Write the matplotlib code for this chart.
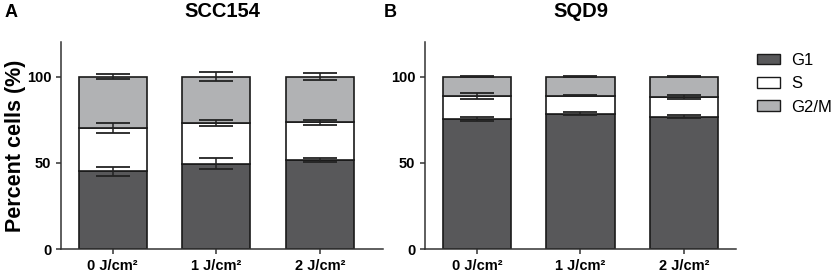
import matplotlib.pyplot as plt
from matplotlib.patches import Patch
import numpy as np

plt.rcParams['font.family'] = ['Liberation Sans', 'DejaVu Sans']

doses = ["0 J/cm²", "1 J/cm²", "2 J/cm²"]
phases = ["G1", "S", "G2/M"]
colors = ["#58585a", "#ffffff", "#b1b2b4"]

# cumulative tops of each stacked segment and SD
scc_g1 = [45.0, 49.5, 51.8]
scc_s = [70.2, 73.0, 73.4]
scc_g2m = [100.0, 100.0, 100.0]
scc_g1_err = [2.4, 3.3, 1.2]
scc_s_err = [2.8, 1.5, 1.6]
scc_g2m_err = [1.4, 2.8, 2.0]

sqd_g1 = [75.2, 78.5, 76.7]
sqd_s = [88.7, 88.8, 88.1]
sqd_g2m = [100.0, 100.0, 100.0]
sqd_g1_err = [1.1, 1.0, 1.0]
sqd_s_err = [2.0, 0.3, 1.0]
sqd_g2m_err = [0.5, 0.5, 0.3]

fig = plt.figure(figsize=(8.35, 2.74), dpi=100)
ax_a = fig.add_axes([0.0731, 0.0912, 0.3856, 0.7555])
ax_b = fig.add_axes([0.509, 0.0912, 0.3724, 0.7555])


def draw(ax, tops, errs, title, xmax):
    x = np.arange(len(doses))
    bottom = np.zeros(len(doses))
    for top, col in zip(tops, colors):
        top = np.array(top)
        ax.bar(x, top - bottom, bottom=bottom, width=0.66, color=col,
               edgecolor="#1a1a1a", linewidth=1.2, zorder=2)
        bottom = top
    for top, err in zip(tops, errs):
        ax.errorbar(x, top, yerr=err, fmt="none", ecolor="#222222",
                    elinewidth=1.1, capsize=12, capthick=1.3, zorder=3)
    ax.set_xlim(-0.5, xmax)
    ax.set_ylim(0, 120)
    ax.set_yticks([0, 50, 100])
    ax.set_xticks(x)
    ax.set_xticklabels(doses, fontweight="bold", fontsize=10.5)
    for lab in ax.get_yticklabels():
        lab.set_fontweight("bold")
        lab.set_fontsize(10.5)
    ax.spines["top"].set_visible(False)
    ax.spines["right"].set_visible(False)
    for s in ("left", "bottom"):
        ax.spines[s].set_linewidth(1.1)
        ax.spines[s].set_color("#333333")
    ax.tick_params(width=1.1, length=3.5, color="#333333")
    ax.set_title(title, fontweight="bold", fontsize=14.5, pad=18)


draw(ax_a, [scc_g1, scc_s, scc_g2m], [scc_g1_err, scc_s_err, scc_g2m_err],
     "SCC154", 2.61)
draw(ax_b, [sqd_g1, sqd_s, sqd_g2m], [sqd_g1_err, sqd_s_err, sqd_g2m_err],
     "SQD9", 2.5)

ax_a.set_ylabel("Percent cells (%)", fontweight="bold", fontsize=15.5)
ax_a.yaxis.set_label_coords(-0.11, 0.5)

fig.text(0.006, 0.955, "A", fontweight="bold", fontsize=13, va="center")
fig.text(0.459, 0.955, "B", fontweight="bold", fontsize=13, va="center")

handles = [Patch(facecolor=c, edgecolor="#1a1a1a", linewidth=1.0) for c in colors]
fig.legend(handles, phases, loc="upper left", bbox_to_anchor=(0.906, 0.807),
           frameon=False, fontsize=12, handlelength=1.4, handleheight=0.6,
           labelspacing=0.5, handletextpad=0.7, borderaxespad=0,
           borderpad=0)

fig.savefig("out.png", dpi=100)
